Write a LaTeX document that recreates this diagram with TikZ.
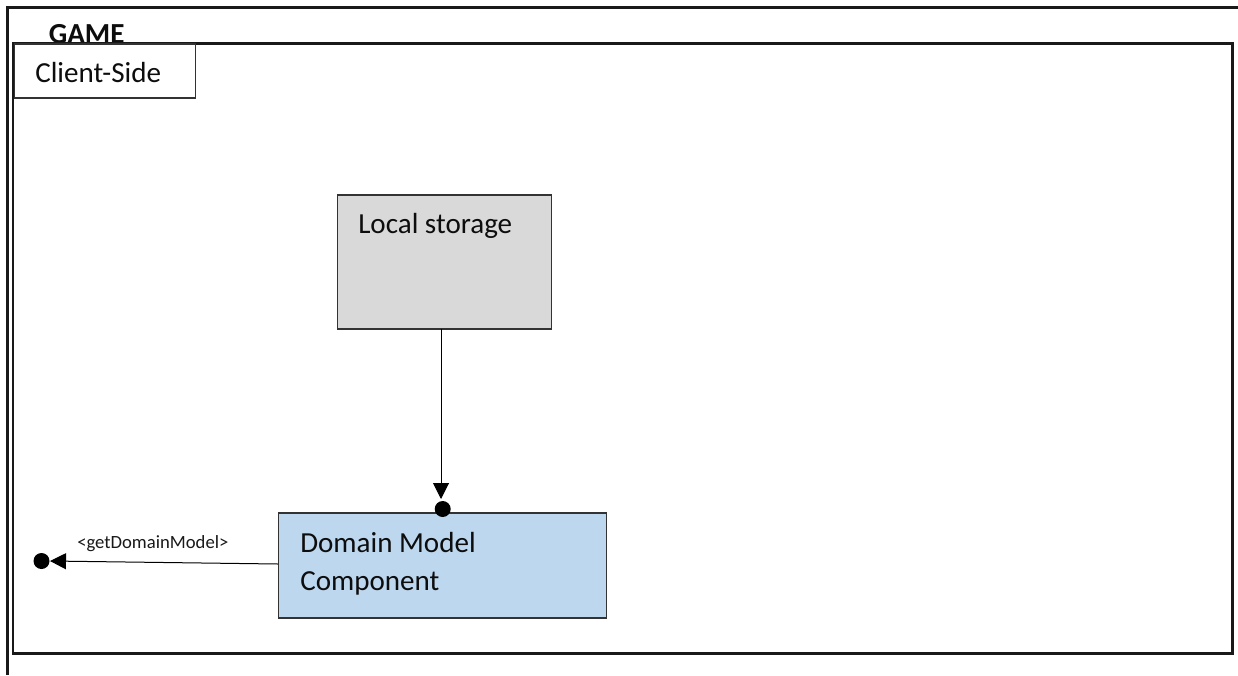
\documentclass[tikz,border=0pt]{standalone}
\usepackage{fontspec}
\setmainfont{Carlito}
\usetikzlibrary{arrows.meta}
\tikzset{
  x=0.75pt,y=-0.75pt,
  frameline/.style={draw=black!90,line width=1.9pt},
  box/.style={draw=black!80,line width=0.8pt,rectangle,inner sep=0pt,outer sep=0pt,anchor=north west},
  lbl/.style={font=\fontsize{21.8}{26}\selectfont,anchor=base west,inner sep=0pt,text=black!95},
  dot/.style={circle,fill=black,inner sep=0pt},
  conn/.style={draw=black,line width=0.75pt,-{Triangle[length=12pt,width=12pt]}}
}
\begin{document}
\begin{tikzpicture}
\useasboundingbox (0,0) rectangle (1238,675);
\fill[white] (0,0) rectangle (1238,675);
\coordinate (oa) at (7.5,675);
\coordinate (ob) at (7.5,7.5);
\coordinate (oc) at (1238,7.5);
\draw[frameline,line width=1.6pt] (oa) -- (ob) -- (oc);
\node[anchor=base west,inner sep=0pt,font=\fontsize{21.8}{26}\selectfont\bfseries,text=black!95] (game) at (48.5,43.5) {GAME};
\node[box,frameline,minimum width=914.8pt,minimum height=457.5pt] (inner) at (12.8,43.5) {};
\node[box,fill=white,minimum width=135.75pt,minimum height=40.5pt] (client) at (14.5,44) {};
\node[lbl] (clientt) at (35,82.5) {Client-Side};
\node[box,fill=black!15,minimum width=160.5pt,minimum height=100.5pt] (local) at (337.5,195) {};
\node[lbl] (localt) at (358,233) {Local storage};
\node[box,fill={rgb,255:red,189;green,215;blue,238},minimum width=246pt,minimum height=78.75pt] (domain) at (278.5,513) {};
\node[lbl] (domt) at (300,552) {Domain Model};
\node[lbl] (domt2) at (300,590) {Component};
\coordinate (localb) at (441,329);
\coordinate (ltip) at (441,499);
\coordinate (doml) at (278,564);
\coordinate (dtip) at (50,561);
\draw[conn] (localb) -- (ltip);
\draw[conn] (doml) -- (dtip);
\node[dot,minimum size=12pt] (dtop) at (442.7,509) {};
\node[dot,minimum size=12pt] (dleft) at (41.5,561) {};
\node[anchor=base west,inner sep=0pt,font=\fontsize{14}{16}\selectfont,text=black!90] (getm) at (77,548) {<getDomainModel>};
\end{tikzpicture}
\end{document}
